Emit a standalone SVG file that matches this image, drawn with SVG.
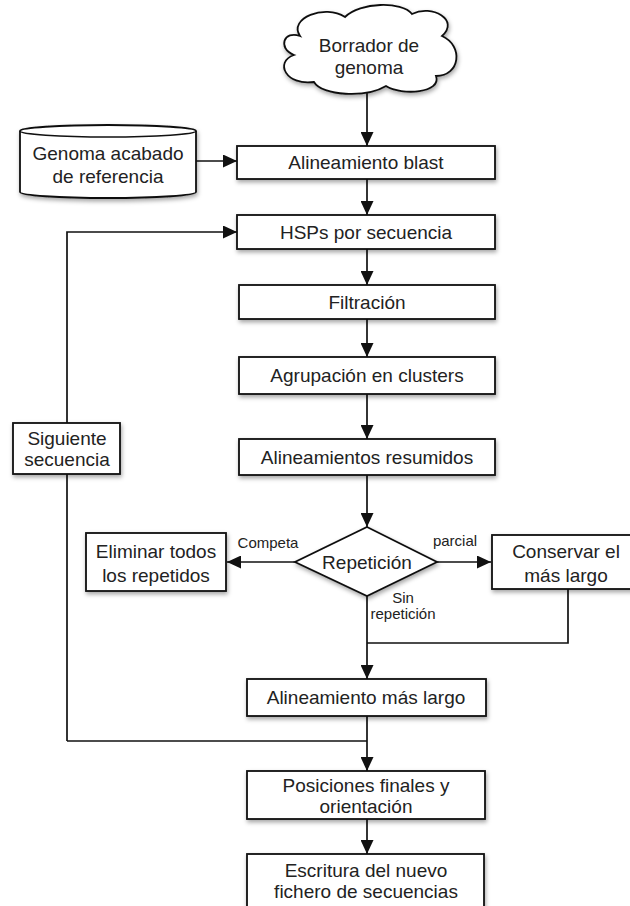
<svg xmlns="http://www.w3.org/2000/svg" width="630" height="906" viewBox="0 0 630 906">
<defs>
<style>
.n{fill:#fff;stroke:#111;stroke-width:1.8;filter:url(#sh)}
.t{font-family:"Liberation Sans",Arial,sans-serif;font-size:19px;fill:#222;text-anchor:middle}
.s{font-family:"Liberation Sans",Arial,sans-serif;font-size:15px;fill:#222;text-anchor:middle}
.c{fill:none;stroke:#111;stroke-width:1.7}
.a{marker-end:url(#ah)}
</style>
<filter id="sh" x="-10%" y="-10%" width="130%" height="140%">
<feDropShadow dx="1" dy="2.5" stdDeviation="2" flood-color="#000" flood-opacity="0.35"/>
</filter>
<marker id="ah" markerUnits="userSpaceOnUse" markerWidth="14" markerHeight="13" refX="14" refY="6.5" orient="auto">
<path d="M0,0 L14,6.5 L0,13 z" fill="#111"/>
</marker>
</defs>
<rect width="630" height="906" fill="#fff"/>
<g id="connectors">
<path class="c a" d="M367,92 L367,146"/>
<path class="c a" d="M196,161 L237,161"/>
<path class="c a" d="M367,179 L367,215"/>
<path class="c a" d="M367,249 L367,285"/>
<path class="c a" d="M367,319 L367,357"/>
<path class="c a" d="M367,394 L367,439"/>
<path class="c a" d="M367,475 L367,527"/>
<path class="c a" d="M295,562 L227,562"/>
<path class="c a" d="M437,562 L491,562"/>
<path class="c a" d="M367,596 L367,679"/>
<path class="c" d="M568,589 L568,643 L367,643"/>
<path class="c a" d="M367,716 L367,771"/>
<path class="c" d="M67,741 L367,741"/>
<path class="c" d="M67,741 L67,474"/>
<path class="c a" d="M67,423 L67,232 L237,232"/>
<path class="c a" d="M367,819 L367,854"/>
<text class="s" x="268" y="548">Competa</text>
<text class="s" x="455" y="546">parcial</text>
<text class="s" x="403" y="603">Sin</text>
<text class="s" x="403" y="619">repetición</text>
</g>
<g id="borrador">
<path class="n" d="M300,36 C288,18 325,4 345,17 C360,2 402,1 412,14 C432,4 460,20 442,36 C464,46 460,76 436,76 C442,93 402,96 386,86 C366,98 322,96 314,82 C286,86 274,62 294,55 C277,48 284,30 300,36 Z"/>
<text class="t" x="369" y="52">Borrador de</text>
<text class="t" x="369" y="74">genoma</text>
</g>
<g id="genoma">
<path class="n" d="M20,131 A88,6 0 0 1 196,131 L196,192 A88,6 0 0 1 20,192 Z"/>
<path class="c" d="M20,131 A88,6 0 0 0 196,131"/>
<text class="t" x="108" y="160">Genoma acabado</text>
<text class="t" x="108" y="183">de referencia</text>
</g>
<g id="blast">
<rect class="n" x="237" y="146" width="258" height="33"/>
<text class="t" x="366" y="169">Alineamiento blast</text>
</g>
<g id="hsps">
<rect class="n" x="237" y="215" width="258" height="34"/>
<text class="t" x="366" y="239">HSPs por secuencia</text>
</g>
<g id="filtracion">
<rect class="n" x="239" y="285" width="256" height="34"/>
<text class="t" x="367" y="309">Filtración</text>
</g>
<g id="agrupacion">
<rect class="n" x="239" y="357" width="256" height="37"/>
<text class="t" x="367" y="382">Agrupación en clusters</text>
</g>
<g id="resumidos">
<rect class="n" x="239" y="439" width="256" height="36"/>
<text class="t" x="367" y="464">Alineamientos resumidos</text>
</g>
<g id="siguiente">
<rect class="n" x="13" y="423" width="107" height="51"/>
<text class="t" x="67" y="445">Siguiente</text>
<text class="t" x="67" y="466">secuencia</text>
</g>
<g id="repeticion">
<path class="n" d="M367,527 L437,562 L367,596 L295,562 Z"/>
<text class="t" x="367" y="569">Repetición</text>
</g>
<g id="eliminar">
<rect class="n" x="86" y="533" width="140" height="58"/>
<text class="t" x="156" y="558">Eliminar todos</text>
<text class="t" x="156" y="582">los repetidos</text>
</g>
<g id="conservar">
<rect class="n" x="492" y="535" width="148" height="54"/>
<text class="t" x="566" y="558">Conservar el</text>
<text class="t" x="566" y="582">más largo</text>
</g>
<g id="maslargo">
<rect class="n" x="247" y="679" width="239" height="37"/>
<text class="t" x="366" y="704">Alineamiento más largo</text>
</g>
<g id="posiciones">
<rect class="n" x="247" y="771" width="238" height="48"/>
<text class="t" x="366" y="792">Posiciones finales y</text>
<text class="t" x="366" y="813">orientación</text>
</g>
<g id="escritura">
<rect class="n" x="247" y="854" width="237" height="60"/>
<text class="t" x="366" y="877">Escritura del nuevo</text>
<text class="t" x="366" y="898">fichero de secuencias</text>
</g>
</svg>
